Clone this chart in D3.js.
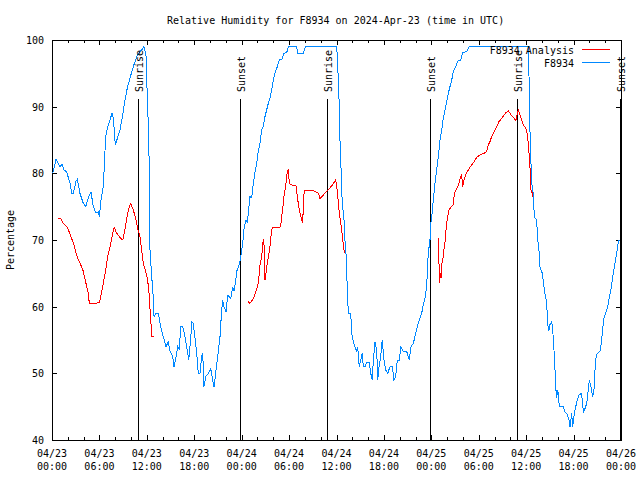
<!DOCTYPE html>
<html><head><meta charset="utf-8">
<script src="https://cdn.jsdelivr.net/npm/d3@7"></script>
<style>
body{margin:0;background:#fff}
svg text{font-family:"DejaVu Sans Mono",monospace;font-size:10px;fill:#000}
</style>
</head><body><svg id="c" width="640" height="480"></svg>
<script>
const title = "Relative Humidity for F8934 on 2024-Apr-23 (time in UTC)";
const yLabel = "Percentage";
const yTicks = [40, 50, 60, 70, 80, 90, 100];
const xTickHours = [0, 6, 12, 18, 24, 30, 36, 42, 48, 54, 60, 66, 72];
const xTickDates = ["04/23","04/23","04/23","04/23","04/24","04/24","04/24","04/24","04/25","04/25","04/25","04/25","04/26"];
const xTickTimes = ["00:00","06:00","12:00","18:00","00:00","06:00","12:00","18:00","00:00","06:00","12:00","18:00","00:00"];
const sunLabels = ["Sunrise","Sunset","Sunrise","Sunset","Sunrise","Sunset"];
const sunHours = [10.92, 23.83, 34.84, 47.87, 58.88, 71.91];
const sunLineTop = 91.2;
const seriesNames = ["F8934 Analysis", "F8934"];
const seriesColors = ["#ff0000", "#0088ff"];

// F8934 observations: hours since 2024-04-23 00:00 UTC, RH %
const obsHours = [0.09,0.51,0.76,1.01,1.27,1.52,1.86,2.28,2.49,2.70,3.04,3.20,3.54,3.96,4.26,4.59,4.93,5.23,5.53,5.86,5.99,6.20,6.49,6.62,6.79,7.05,7.34,7.59,7.76,8.01,8.26,8.60,8.95,9.24,9.53,9.87,10.29,10.72,11.13,11.35,11.64,11.89,12.06,12.24,12.34,12.40,12.62,12.78,12.91,13.16,13.45,13.75,14.08,14.42,14.72,14.93,15.27,15.44,15.69,15.91,16.11,16.28,16.54,16.83,17.04,17.30,17.46,17.71,17.88,18.09,18.31,18.51,18.73,18.94,19.07,19.23,19.45,19.78,20.08,20.33,20.50,20.71,20.97,21.26,21.47,21.60,21.76,22.02,22.23,22.43,22.61,22.86,23.03,23.24,23.37,23.70,23.88,24.13,24.33,24.55,24.71,24.84,25.05,25.27,25.47,25.69,25.90,26.10,26.32,26.53,26.74,26.95,27.37,27.58,27.80,28.00,28.22,28.51,28.76,29.07,29.36,29.70,29.90,30.96,31.09,31.80,32.05,36.02,36.10,36.23,36.35,36.44,36.53,36.66,36.86,36.99,37.07,37.20,37.29,37.42,37.49,37.80,37.92,38.13,38.34,38.56,38.68,38.88,39.06,39.26,39.39,39.61,39.82,40.15,40.33,40.53,40.66,40.87,41.09,41.21,41.38,41.59,41.79,42.01,42.22,42.48,42.77,43.06,43.27,43.49,43.69,43.95,44.16,44.45,44.88,45.21,45.43,45.72,45.93,46.15,46.35,46.56,46.78,46.98,47.20,47.41,47.61,47.83,47.96,48.12,48.25,48.46,48.68,48.88,49.10,49.31,49.51,49.73,49.94,50.15,50.36,50.58,50.78,51.08,51.41,51.71,51.97,52.47,52.80,60.27,60.40,60.48,60.61,60.70,60.90,61.03,61.33,61.46,61.62,61.75,62.04,62.26,62.38,62.60,62.72,62.85,63.01,63.23,63.35,63.52,63.65,63.77,63.86,63.99,64.06,64.19,64.70,64.91,65.13,65.42,65.55,65.76,65.89,66.09,66.27,66.47,66.68,66.94,67.11,67.23,67.44,67.66,67.86,67.99,68.20,68.42,68.58,68.71,68.83,69.00,69.34,69.56,69.68,69.85,70.06,70.26,70.39,70.52,70.70,70.83,71.03,71.24,71.45,71.66,71.78];
const obsRH = [80,82.1,81.5,81,81.3,80.5,80.2,78.5,77,77,78.8,79.1,77,75.5,75,76.3,77.2,75,74.1,74.2,73.5,76,78,81.2,85.5,87,88,89,88.3,84.3,85.2,86.5,88.8,91,92.8,94.3,96,97.5,98.3,98.5,99,97.8,91.5,85.5,77.5,68.5,64.5,62,58.5,59,59,57,55.5,54,54.7,53.3,52.5,51,52.5,54,53.5,57,57,55.5,54,52,54,57.7,57.5,55.3,53,50,50,52.5,53,48,49.5,50,50.7,49,48,50,52.5,55.5,59.5,61,60,59.2,61.7,61.5,61.2,63,62.3,63.8,65.3,66.3,67.5,69.5,72,73,72.7,74,76.5,76.3,78.5,80.2,81.5,83.3,84.5,86.5,87,88.5,90.5,91.3,92.5,94,95,96,97,97.1,98,98.1,99,99,98,98,99,99,97.5,94,90,85,82.5,77,74,72.5,70,68,65,61.3,59,59,56,54.7,54,53.3,54,51,52,53,51,51,51.7,51.7,50,49,52,54.7,53.5,49,51,52.5,55,52,50.5,50,51,51,49,49.5,52,52,54,53.3,53.3,52,54,54.5,55.5,56.7,57.5,58.3,59,60.3,61.3,63,68,70,72.7,74.2,76,78.5,80.5,82.5,85,86.5,88.3,89.5,90.7,92,93,94,95.2,96,97,97,98.1,98.3,99,99,92.5,86.5,81.5,78.5,77,73.5,73,70,68.5,66,65,63,62,60.5,57.5,56.3,57.3,57.7,56.7,53.5,50.5,47.5,46.3,47.5,47,45,45,44.2,44,43,42,44,42,44,45,46,46.7,47,46,44.2,44.7,45.5,47.5,49,48,46.5,47.5,50.5,52.2,53,53.3,55,56.7,58.3,59,59.7,60.5,61.5,62.3,63.5,65,66.5,68,69.7,70];

// F8934 Analysis (null = gap)
const anaHours = [0.80,1.10,1.43,1.86,2.19,2.49,2.82,3.04,3.33,3.63,3.96,4.26,4.59,4.72,5.44,5.99,6.20,6.49,6.79,7.05,7.34,7.68,7.88,8.19,8.60,8.95,9.24,9.53,9.78,9.96,10.29,10.59,10.84,11.13,11.35,11.55,11.77,11.98,12.19,12.31,12.49,12.65,12.94,
  18.0,
  24.84,25.05,25.47,25.81,26.02,26.19,26.32,26.53,26.74,26.86,26.95,27.08,27.24,27.46,27.58,27.67,27.88,28.85,28.97,29.14,29.27,29.39,29.57,29.70,29.90,30.03,30.33,30.87,31.04,31.29,31.51,31.72,31.80,31.92,32.86,33.28,33.70,33.91,34.33,34.83,35.39,35.90,36.02,36.15,36.23,36.35,36.53,36.66,36.78,36.93,37.07,
  42.0,
  48.88,48.97,49.01,49.10,49.22,49.35,49.51,49.64,49.77,49.86,50.02,50.23,50.45,50.78,50.91,51.12,51.34,51.54,51.71,51.84,51.97,52.13,52.35,52.55,52.80,53.11,53.40,53.74,54.16,54.66,55.00,55.21,55.42,55.63,55.93,56.27,56.56,56.81,57.11,57.45,57.74,58.04,58.37,58.71,58.87,59.00,59.22,59.43,59.63,59.84,60.06,60.27,60.40,60.48,60.61,60.78,60.90];
const anaRH = [73.25,73.25,72.5,72,71.2,70.2,69.2,68,67,66.3,65.3,63.7,62,60.5,60.5,60.6,61.7,63.5,65.5,67.5,69,71,71.9,71,70.4,70,71.7,73.7,75,75.5,74.5,73.2,71.7,70.5,68.5,66.5,65.7,64.7,63.2,61.5,58,55.5,55.5,
  null,
  60.75,60.5,61.2,62.3,63,64.5,66.3,67.5,70.2,69,64,65,66.5,68,69,70.2,71.9,71.9,72.5,74.2,75.5,77,78,79.75,80.6,78.5,78.25,78.1,76.5,74.5,73.5,72.5,75,77.5,77.5,77.25,77,76.25,76.75,77.4,78.1,79,78,77,75.5,74.2,72.5,71.5,70.2,68.5,68.1,
  null,
  70.25,66.75,63.5,65,64.25,66.5,67.5,69,70,71.5,73.25,74.5,74.9,75.25,77,77.5,78,78.75,79.5,79.75,78,79,79.75,80.25,80.75,81.25,81.75,82.4,82.75,83,83.25,84.25,84.75,85.5,86.25,87,87.75,88.1,88.6,89.1,89.4,88.85,88.4,87.9,89,89.5,88.75,88,87.25,87,86.5,84.5,82.5,81,77.5,77,76.25];

const t0 = Date.UTC(2024, 3, 23);
const toDate = h => new Date(t0 + h * 3600000);

const svg = d3.select("#c");
const L = 52, R = 621, T = 40, B = 440;
const x = d3.scaleUtc().domain([toDate(0), toDate(72)]).range([L, R]);
const y = d3.scaleLinear().domain([40, 100]).range([B, T]);

const minorHours = d3.range(0, 73, 2).filter(h => h % 6 !== 0);

// Title
svg.append("text").attr("x", 167).attr("y", 24).text(title);

// y label
svg.append("text").attr("transform", "translate(14,240) rotate(-90)")
  .attr("text-anchor", "middle").text(yLabel);

// Axes (ticks inward)
const gx = svg.append("g").attr("transform", `translate(0,${B})`)
  .call(d3.axisBottom(x).tickValues(xTickHours.map(toDate)).tickSizeInner(-5).tickSizeOuter(0).tickFormat(""));
const gxm = svg.append("g").attr("transform", `translate(0,${B})`)
  .call(d3.axisBottom(x).tickValues(minorHours.map(toDate)).tickSizeInner(-3).tickSizeOuter(0).tickFormat(""));
const gxt = svg.append("g").attr("transform", `translate(0,${T})`)
  .call(d3.axisTop(x).tickValues(xTickHours.map(toDate)).tickSizeInner(-5).tickSizeOuter(0).tickFormat(""));
const gxtm = svg.append("g").attr("transform", `translate(0,${T})`)
  .call(d3.axisTop(x).tickValues(minorHours.map(toDate)).tickSizeInner(-3).tickSizeOuter(0).tickFormat(""));
const gy = svg.append("g").attr("transform", `translate(${L},0)`)
  .call(d3.axisLeft(y).tickValues(yTicks).tickSizeInner(-5).tickSizeOuter(0).tickPadding(8).tickFormat(d3.format("d")));
const gyr = svg.append("g").attr("transform", `translate(${R},0)`)
  .call(d3.axisRight(y).tickValues(yTicks).tickSizeInner(-5).tickSizeOuter(0).tickFormat(""));
[gx, gxm, gxt, gxtm, gy, gyr].forEach(g => {
  g.select(".domain").remove();
  g.selectAll("line").attr("stroke", "#000").attr("shape-rendering", "crispEdges");
  g.selectAll("text").style("font-family", "DejaVu Sans Mono, monospace").style("font-size", "10px");
});
gy.selectAll("text").attr("x", -8).attr("dy", "0.35em");

// two-line x tick labels
xTickHours.forEach((h, i) => {
  const t = svg.append("text").attr("text-anchor", "middle");
  t.append("tspan").attr("x", x(toDate(h))).attr("y", 457).text(xTickDates[i]);
  t.append("tspan").attr("x", x(toDate(h))).attr("y", 470).text(xTickTimes[i]);
});

// Frame
svg.append("rect").attr("x", L).attr("y", T).attr("width", R - L).attr("height", B - T)
  .attr("fill", "none").attr("stroke", "#000").attr("shape-rendering", "crispEdges");

// Sunrise / sunset markers
sunHours.forEach((h, i) => {
  const xx = x(toDate(h));
  svg.append("line").attr("x1", xx).attr("x2", xx).attr("y1", y(sunLineTop)).attr("y2", B)
    .attr("stroke", "#000").attr("shape-rendering", "crispEdges");
});

// Series
const line = d3.line().defined(d => d[1] !== null).x(d => x(toDate(d[0]))).y(d => y(d[1]));
const anaData = anaHours.map((h, i) => [h, anaRH[i]]);
const obsData = obsHours.map((h, i) => [h, obsRH[i]]);
svg.append("path").datum(anaData).attr("d", line).attr("fill", "none")
  .attr("stroke", seriesColors[0]).attr("stroke-width", 1).attr("shape-rendering", "crispEdges");
svg.append("path").datum(obsData).attr("d", line).attr("fill", "none")
  .attr("stroke", seriesColors[1]).attr("stroke-width", 1).attr("shape-rendering", "crispEdges");

// Sun labels (drawn on top)
sunHours.forEach((h, i) => {
  const xx = x(toDate(h));
  svg.append("text").attr("transform", `translate(${xx + 4.5},92) rotate(-90)`).text(sunLabels[i]);
});

// Legend
seriesNames.forEach((n, i) => {
  const yy = 49.5 + i * 13;
  svg.append("text").attr("x", 574).attr("y", yy + 4).attr("text-anchor", "end").text(n);
  svg.append("line").attr("x1", 582).attr("x2", 610).attr("y1", yy).attr("y2", yy)
    .attr("stroke", seriesColors[i]).attr("shape-rendering", "crispEdges");
});
</script>
</body></html>
